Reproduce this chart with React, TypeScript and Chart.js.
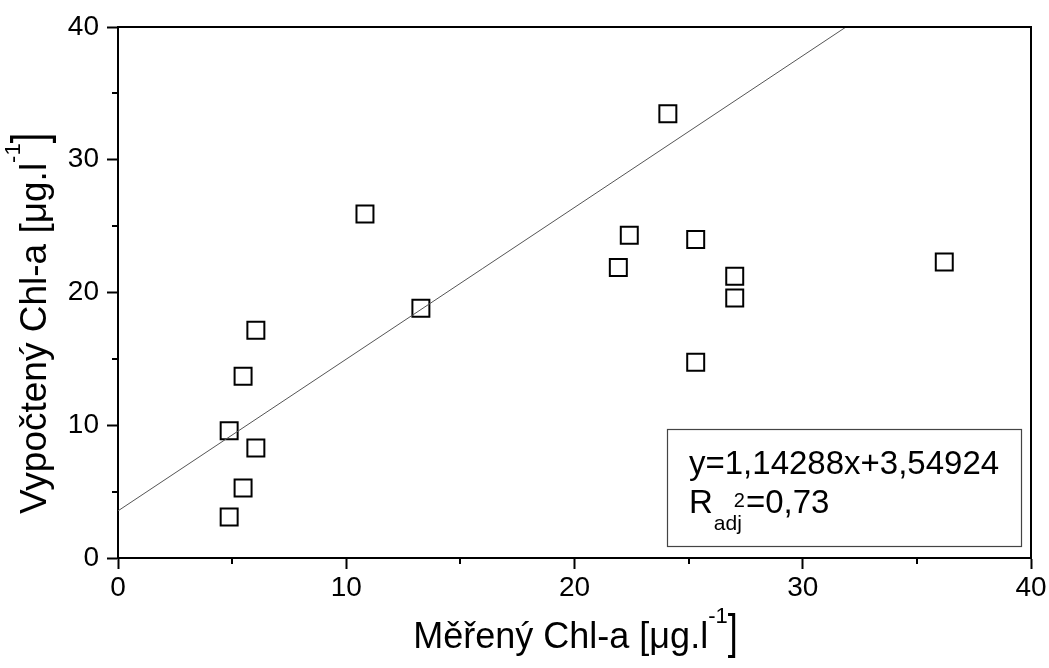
import React, { useEffect, useRef } from "react";
import { Chart, registerables } from "chart.js";

Chart.register(...registerables);

// Measured vs. computed chlorophyll-a (µg/l)
const measuredChl = [4.87, 5.48, 4.87, 6.04, 5.48, 6.04, 10.82, 13.27, 21.92, 22.4, 24.09, 25.31, 25.31, 27.02, 27.02, 36.2];
const computedChl = [3.09, 5.27, 9.59, 8.29, 13.69, 17.15, 25.92, 18.81, 21.88, 24.31, 33.46, 23.99, 14.74, 21.22, 19.59, 22.3];

// Regression line y = slope * x + intercept
const fitSlope = 1.14288;
const fitIntercept = 3.54924;
const fitXRange = [0, 40];

const axisMin = 0;
const axisMax = 40;
const majorStep = 10;
const minorTicks = [5, 15, 25, 35];

const xTitleMain = "Měřený Chl-a [μg.l";
const yTitleMain = "Vypočtený Chl-a [μg.l";
const titleSup = "-1";
const titleEnd = "]";
const eqLine = "y=1,14288x+3,54924";
const r2Main = "R";
const r2Sub = "adj";
const r2Sup = "2";
const r2Value = "=0,73";

const FONT = "'Liberation Sans', Arial, Helvetica, sans-serif";

type Part = { text: string; size: number; dy: number; dx?: number; sy?: number };

function partsWidth(ctx: CanvasRenderingContext2D, parts: Part[]) {
  let w = 0;
  for (const p of parts) {
    ctx.font = `${p.size}px ${FONT}`;
    w += ctx.measureText(p.text).width + (p.dx || 0);
  }
  return w;
}

function drawParts(ctx: CanvasRenderingContext2D, parts: Part[], x: number, y: number) {
  let cx = x;
  for (const p of parts) {
    ctx.font = `${p.size}px ${FONT}`;
    cx += p.dx || 0;
    if (p.sy) {
      ctx.save();
      ctx.translate(cx, y + p.dy);
      ctx.scale(1, p.sy);
      ctx.fillText(p.text, 0, 0);
      ctx.restore();
    } else {
      ctx.fillText(p.text, cx, y + p.dy);
    }
    cx += ctx.measureText(p.text).width;
  }
}

const decorPlugin = {
  id: "decor",
  afterDraw(chart: any) {
    const { ctx, chartArea } = chart;
    const { left, right, top, bottom } = chartArea;
    const xs = chart.scales.x;
    const ys = chart.scales.y;
    ctx.save();
    ctx.strokeStyle = "#000";
    ctx.fillStyle = "#000";
    // frame top & right
    ctx.lineWidth = 2;
    ctx.beginPath();
    ctx.moveTo(left, top);
    ctx.lineTo(right, top);
    ctx.lineTo(right, bottom);
    ctx.stroke();
    // minor ticks
    ctx.beginPath();
    for (const v of minorTicks) {
      const px = Math.round(xs.getPixelForValue(v));
      ctx.moveTo(px, bottom);
      ctx.lineTo(px, bottom + 6);
      const py = Math.round(ys.getPixelForValue(v));
      ctx.moveTo(left, py);
      ctx.lineTo(left - 6, py);
    }
    ctx.stroke();

    // annotation box
    const bw = 354;
    const bh = 117;
    const bx = right - 10 - bw;
    const by = bottom - 12 - bh;
    ctx.lineWidth = 1.2;
    ctx.strokeStyle = "#444";
    ctx.strokeRect(bx + 0.5, by + 0.5, bw, bh);
    ctx.textAlign = "left";
    ctx.textBaseline = "alphabetic";
    ctx.font = `33px ${FONT}`;
    ctx.fillText(eqLine, bx + 22, by + 45);
    drawParts(
      ctx,
      [
        { text: r2Main, size: 33, dy: 0 },
        { text: r2Sub, size: 21, dy: 17, dx: 1 },
        { text: r2Sup, size: 20, dy: -6, dx: -8 },
        { text: r2Value, size: 33, dy: 0, dx: 1 },
      ],
      bx + 22,
      by + 84
    );

    // axis titles
    const xParts: Part[] = [
      { text: xTitleMain, size: 36, dy: 0 },
      { text: titleSup, size: 22, dy: -25 },
      { text: titleEnd, size: 36, dy: 0, sy: 1.35 },
    ];
    const xw = partsWidth(ctx, xParts);
    drawParts(ctx, xParts, (left + right) / 2 - xw / 2 + 1, bottom + 90);

    const yParts: Part[] = [
      { text: yTitleMain, size: 37, dy: 0 },
      { text: titleSup, size: 22, dy: -26 },
      { text: titleEnd, size: 37, dy: 0, sy: 1.35 },
    ];
    const yw = partsWidth(ctx, yParts);
    ctx.translate(46, (top + bottom) / 2 + 31);
    ctx.rotate(-Math.PI / 2);
    drawParts(ctx, yParts, -yw / 2, 0);
    ctx.restore();
  },
};

export default function App() {
  const ref = useRef<HTMLCanvasElement | null>(null);
  useEffect(() => {
    if (!ref.current) return;
    const points = measuredChl.map((x, i) => ({ x, y: computedChl[i] }));
    const fitLine = fitXRange.map((x) => ({ x, y: fitSlope * x + fitIntercept }));
    const tickFont = { family: FONT, size: 28 };
    const chart = new Chart(ref.current, {
      type: "scatter",
      data: {
        datasets: [
          {
            type: "line",
            data: fitLine,
            borderColor: "#555",
            borderWidth: 1,
            pointRadius: 0,
            fill: false,
          } as any,
          {
            data: points,
            pointStyle: "rect",
            pointRadius: 12,
            borderWidth: 2,
            borderColor: "#000",
            backgroundColor: "rgba(0,0,0,0)",
          },
        ],
      },
      options: {
        responsive: false,
        animation: false,
        devicePixelRatio: 1,
        layout: { padding: { top: 27, right: 18, left: 0, bottom: 0 } },
        plugins: { legend: { display: false }, tooltip: { enabled: false } },
        scales: {
          x: {
            type: "linear",
            min: axisMin,
            max: axisMax,
            ticks: { stepSize: majorStep, font: tickFont, color: "#000", padding: 2, maxRotation: 0 },
            grid: { drawOnChartArea: false, drawTicks: true, tickLength: 11, tickWidth: 2, tickColor: "#000" },
            border: { display: true, color: "#000", width: 2 },
            afterFit: (s: any) => {
              s.height = 110;
            },
          },
          y: {
            type: "linear",
            min: axisMin,
            max: axisMax,
            ticks: { stepSize: majorStep, font: tickFont, color: "#000", padding: 8 },
            grid: { drawOnChartArea: false, drawTicks: true, tickLength: 11, tickWidth: 2, tickColor: "#000" },
            border: { display: true, color: "#000", width: 2 },
            afterFit: (s: any) => {
              s.width = 118;
            },
          },
        },
      },
      plugins: [decorPlugin],
    });
    return () => chart.destroy();
  }, []);
  return (
    <div style={{ position: "absolute", left: 0, top: 0, width: 1049, height: 668, background: "#fff" }}>
      <canvas ref={ref} width={1049} height={668} />
    </div>
  );
}
